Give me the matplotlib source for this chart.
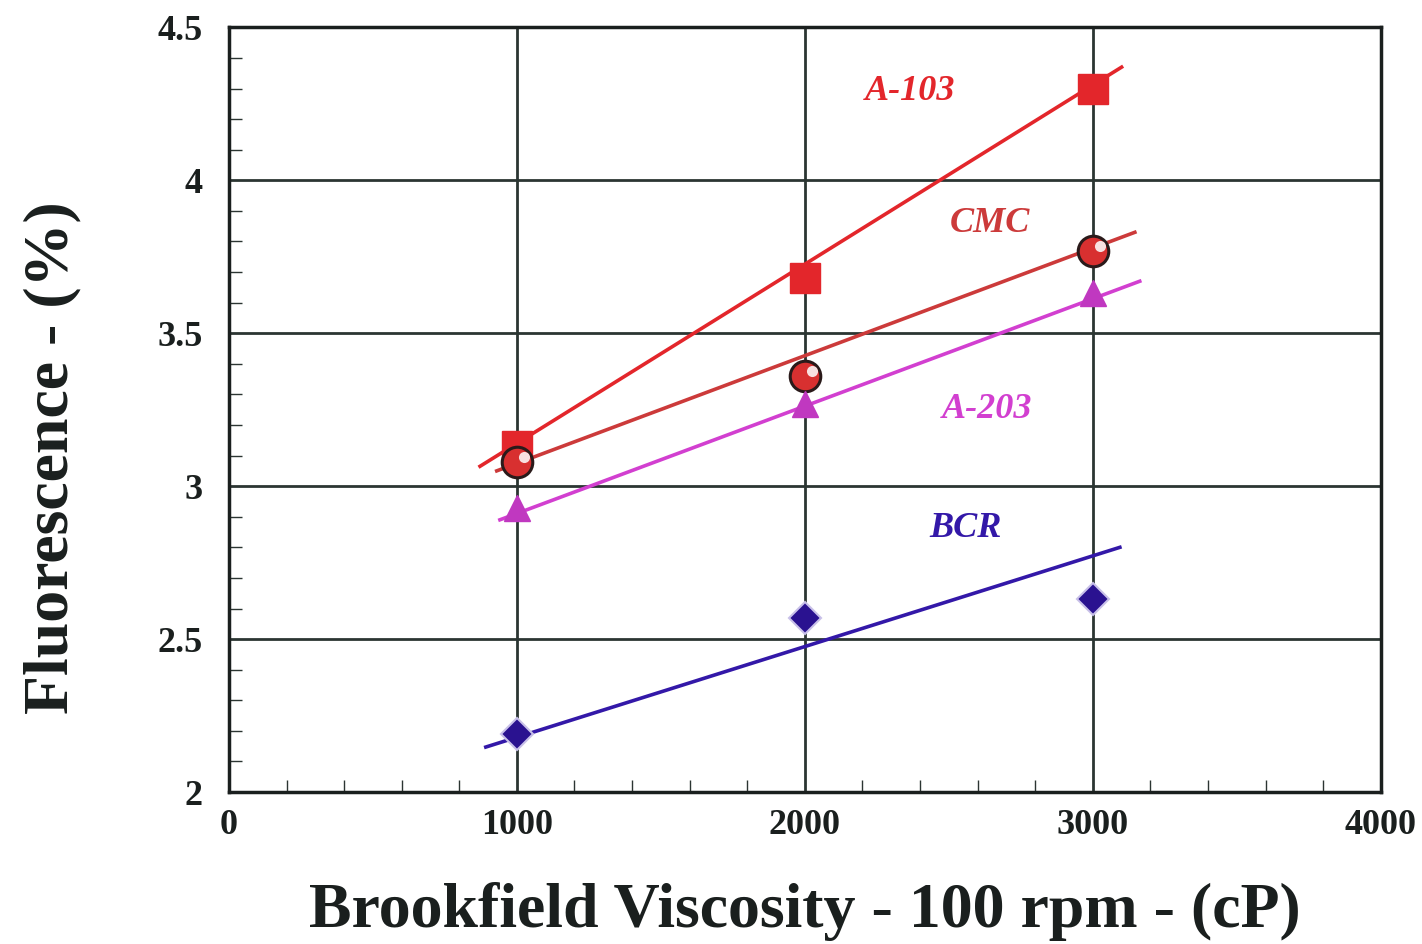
#!/usr/bin/env python3
import matplotlib
matplotlib.use('Agg')
import matplotlib.pyplot as plt
from matplotlib.ticker import MultipleLocator
import numpy as np

# data
viscosity = [1000, 2000, 3000]
a103 = [3.13, 3.68, 4.30]
cmc = [3.08, 3.36, 3.77]
a203 = [2.93, 3.27, 3.63]
bcr = [2.19, 2.57, 2.63]

# drawn trend lines: x from/to and y from/to
trend_x = {'A-103': [872, 3100], 'CMC': [930, 3146], 'A-203': [941, 3163], 'BCR': [892, 3094]}
trend_y = {'A-103': [3.065, 4.37], 'CMC': [3.05, 3.83], 'A-203': [2.89, 3.67], 'BCR': [2.147, 2.80]}

# label anchors (data coords)
label_x = {'A-103': 2365, 'CMC': 2642, 'A-203': 2632, 'BCR': 2559}
label_y = {'A-103': 4.29, 'CMC': 3.86, 'A-203': 3.25, 'BCR': 2.86}

colors = {'A-103': '#e3262b', 'CMC': '#cc3a3a', 'A-203': '#d23fd0', 'BCR': '#3318a8'}

plt.rcParams['font.family'] = ['Liberation Serif', 'DejaVu Serif']

fig = plt.figure(figsize=(14.22, 9.44), dpi=100)
ax = fig.add_axes([0.161, 0.161, 0.81, 0.81])

for name in ['A-103', 'CMC', 'A-203', 'BCR']:
    ax.plot(trend_x[name], trend_y[name], color=colors[name], lw=2.6, zorder=3)

ax.plot(viscosity, a103, ls='none', marker='s', ms=21, color=colors['A-103'], zorder=4)
ax.plot(viscosity, cmc, ls='none', marker='o', ms=22, mfc='#d83030', mec='#2a1a1a', mew=2.2, zorder=4)
ax.plot([v + 25 for v in viscosity], [c + 0.015 for c in cmc], ls='none', marker='o', ms=8,
        mfc='#f8e0e0', mec='none', zorder=5)
ax.plot(viscosity, a203, ls='none', marker='^', ms=19, color='#c038c0', zorder=4)
ax.plot(viscosity, bcr, ls='none', marker='D', ms=16, color='#2a1290', mec='#c8c0e8', mew=1.5, zorder=4)

for name in ['A-103', 'CMC', 'A-203', 'BCR']:
    ax.text(label_x[name], label_y[name], name, color=colors[name], fontsize=26,
            fontweight='bold', fontstyle='italic', ha='center', va='center', zorder=6)

ax.set_xlim(0, 4000)
ax.set_ylim(2, 4.5)
ax.xaxis.set_major_locator(MultipleLocator(1000))
ax.xaxis.set_minor_locator(MultipleLocator(200))
ax.yaxis.set_minor_locator(MultipleLocator(0.1))
ax.set_yticks([2, 2.5, 3, 3.5, 4, 4.5])
ax.set_yticklabels(['2', '2.5', '3', '3.5', '4', '4.5'])

ax.grid(True, which='major', color='#2b3532', lw=2, zorder=1)
ax.tick_params(which='both', direction='in', colors='#2b3532', labelcolor='#1a1f1e')
ax.tick_params(which='major', length=0, labelsize=26)
ax.tick_params(axis='y', which='major', pad=19)
ax.tick_params(axis='x', which='major', pad=12)
ax.tick_params(which='minor', length=9, width=1)
for lab in ax.get_xticklabels() + ax.get_yticklabels():
    lab.set_fontweight('bold')
for sp in ax.spines.values():
    sp.set_linewidth(2.5)
    sp.set_color('#1a1f1e')

ax.set_xlabel('Brookfield Viscosity - 100 rpm - (cP)', fontsize=46, fontweight='bold',
              color='#1a1f1e')
ax.set_ylabel('Fluorescence - (%)', fontsize=46, fontweight='bold', color='#1a1f1e')
ax.xaxis.set_label_coords(0.5, -0.118)
ax.yaxis.set_label_coords(-0.128, 0.437)

fig.savefig('out.png', dpi=100)
